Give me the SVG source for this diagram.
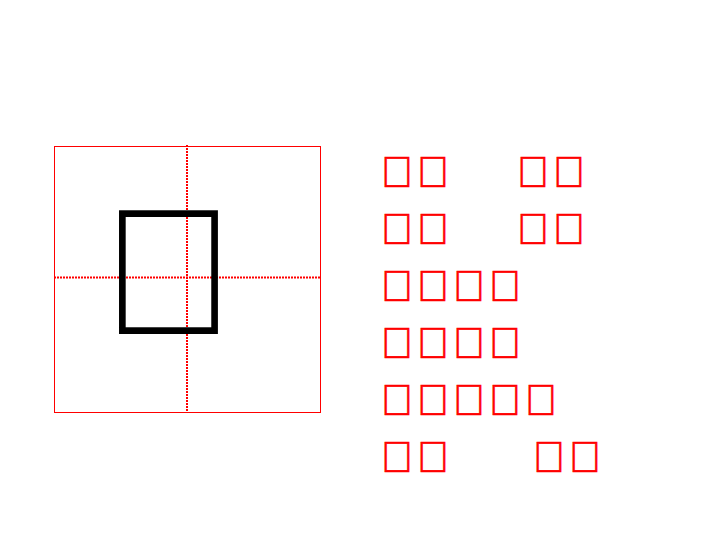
<svg xmlns="http://www.w3.org/2000/svg" width="720" height="540" viewBox="0 0 720 540">
<style>
.grid{fill:none;stroke:#ff0000;stroke-width:1}
.dot{fill:none;stroke:#ff0000;stroke-width:2;stroke-dasharray:2 1}
.big{font-family:"Liberation Sans",sans-serif;font-size:180px;fill:#000000}
.row{font-family:"Liberation Sans",sans-serif;font-size:44px;fill:#ff0000;stroke:#ff0000;stroke-width:0.6}
</style>
<rect x="0" y="0" width="720" height="540" fill="#ffffff"/>
<g id="tianzige">
<rect class="grid" x="54.5" y="146.5" width="266" height="266"/>
<line class="dot" x1="187" y1="145" x2="187" y2="412"/>
<line class="dot" x1="54" y1="277.5" x2="320" y2="277.5"/>
</g>
<g id="character">
<text class="big" x="101" y="334">&#xE000;</text>
</g>
<g id="row1"><text class="row" x="380.5 416.5 516.5 552.5" y="186.5">&#xE000;&#xE000;&#xE000;&#xE000;</text></g>
<g id="row2"><text class="row" x="380.5 416.5 516.5 552.5" y="243.5">&#xE000;&#xE000;&#xE000;&#xE000;</text></g>
<g id="row3"><text class="row" x="380.5 416.5 452.5 488.5" y="300.5">&#xE000;&#xE000;&#xE000;&#xE000;</text></g>
<g id="row4"><text class="row" x="380.5 416.5 452.5 488.5" y="357.5">&#xE000;&#xE000;&#xE000;&#xE000;</text></g>
<g id="row5"><text class="row" x="380.5 416.5 452.5 488.5 524.5" y="414.5">&#xE000;&#xE000;&#xE000;&#xE000;&#xE000;</text></g>
<g id="row6"><text class="row" x="380.5 416.5 532.5 568.5" y="471.5">&#xE000;&#xE000;&#xE000;&#xE000;</text></g>
</svg>
